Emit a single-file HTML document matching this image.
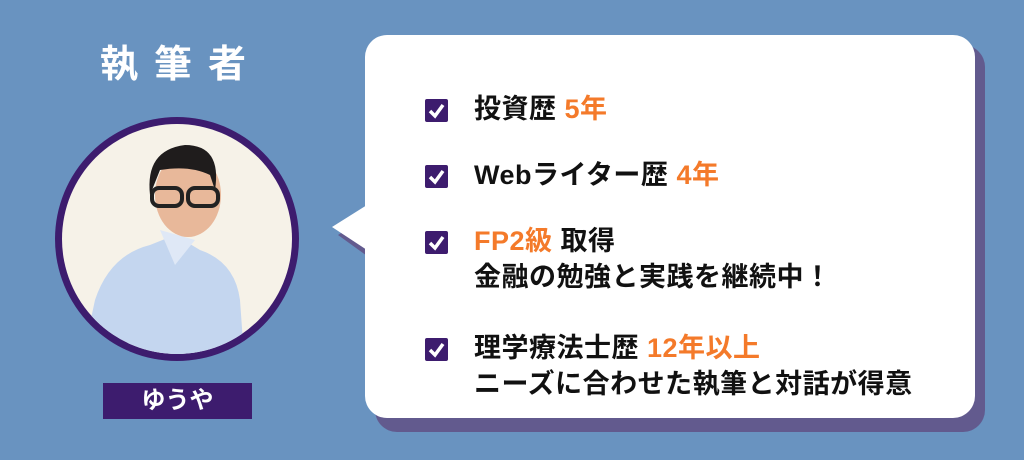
<!DOCTYPE html>
<html><head><meta charset="utf-8"><style>
body{margin:0;width:1024px;height:460px;background:#6993c0;position:relative;overflow:hidden;font-family:"Liberation Sans","Noto Sans CJK JP",sans-serif;}
.t{position:absolute;font-weight:bold;font-size:27px;letter-spacing:0.5px;color:#111;white-space:nowrap;line-height:1;}
.o{color:#f47a2a}
.cb{position:absolute;left:425px;width:23px;height:23px;background:#3d1c6e;border-radius:2px;}
.cb svg{position:absolute;left:0;top:0}
</style></head><body>
<div style="position:absolute;left:100px;top:46px;color:#fff;font-weight:bold;font-size:38px;letter-spacing:16px;line-height:1">執筆者</div>
<svg width="1024" height="460" style="position:absolute;left:0;top:0">
<defs><clipPath id="c"><circle cx="177" cy="239" r="115"/></clipPath></defs>
<circle cx="177" cy="239" r="122" fill="#3d1c6e"/>
<g clip-path="url(#c)">
<rect x="50" y="110" width="260" height="260" fill="#f6f2e8"/>
<path d="M80 370 L95 300 Q110 255 150 245 L175 235 L200 250 Q235 262 240 300 L245 370Z" fill="#c4d6ef"/>
<path d="M160 230 L175 265 L195 240 Z" fill="#dfe8f6"/>
<ellipse cx="188" cy="195" rx="33" ry="42" fill="#e8b89a"/>
<path d="M150 195 Q145 150 185 145 Q222 145 215 190 L210 175 Q190 165 160 170Z" fill="#1f1c1c"/>
<rect x="152" y="188" width="30" height="18" rx="7" fill="none" stroke="#222" stroke-width="4"/>
<rect x="188" y="188" width="30" height="18" rx="7" fill="none" stroke="#222" stroke-width="4"/>
</g>
<rect x="375" y="45" width="610" height="387" rx="22" fill="#625a8e"/>
<polygon points="332,227 375,200 375,258" fill="#625a8e" transform="translate(6,8)"/>
<rect x="365" y="35" width="610" height="383" rx="22" fill="#fff"/>
<polygon points="332,227 367,205 367,250" fill="#fff"/>
<rect x="103" y="383" width="149" height="36" fill="#3d1c6e"/>
</svg>
<div style="position:absolute;left:103px;top:383px;width:149px;height:36px;color:#fff;font-weight:bold;font-size:24px;text-align:center;line-height:36px">ゆうや</div>

<div class="cb" style="top:99px"><svg width="23" height="23"><path d="M5 12 L10 17 L18 6" stroke="#fff" stroke-width="3.5" fill="none"/></svg></div>
<div class="t" style="left:474px;top:96px">投資歴 <span class="o">5年</span></div>
<div class="cb" style="top:165px"><svg width="23" height="23"><path d="M5 12 L10 17 L18 6" stroke="#fff" stroke-width="3.5" fill="none"/></svg></div>
<div class="t" style="left:474px;top:162px">Webライター歴 <span class="o">4年</span></div>
<div class="cb" style="top:231px"><svg width="23" height="23"><path d="M5 12 L10 17 L18 6" stroke="#fff" stroke-width="3.5" fill="none"/></svg></div>
<div class="t" style="left:474px;top:228px"><span class="o">FP2級</span> 取得</div>
<div class="t" style="left:474px;top:264px">金融の勉強と実践を継続中！</div>
<div class="cb" style="top:338px"><svg width="23" height="23"><path d="M5 12 L10 17 L18 6" stroke="#fff" stroke-width="3.5" fill="none"/></svg></div>
<div class="t" style="left:474px;top:335px">理学療法士歴 <span class="o">12年以上</span></div>
<div class="t" style="left:474px;top:371px">ニーズに合わせた執筆と対話が得意</div>
</body></html>
